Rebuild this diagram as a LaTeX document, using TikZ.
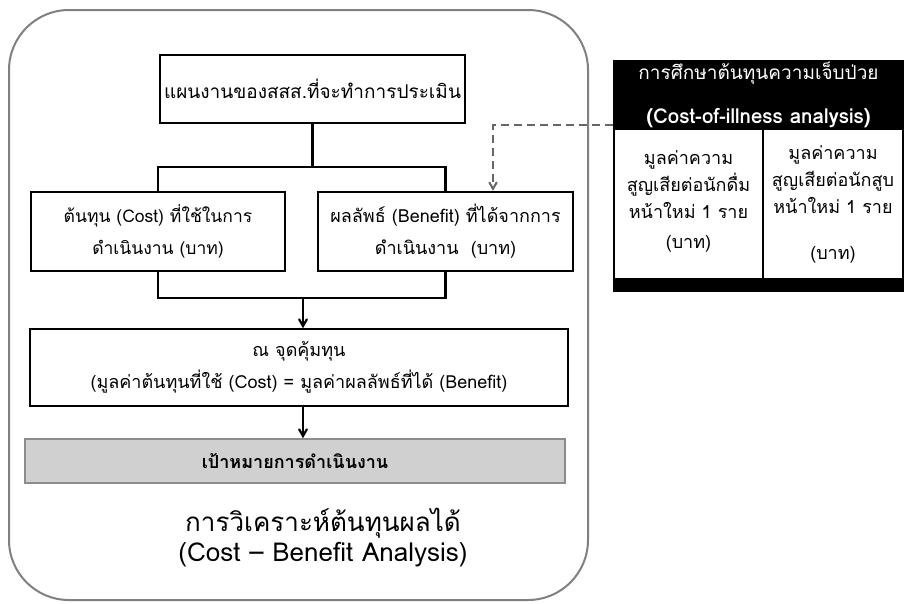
\documentclass[tikz,border=0pt]{standalone}
\usepackage{fontspec}
\setmainfont{Loma}[Script=Thai]
\usepackage{tikz}
\usetikzlibrary{positioning, arrows}
\tikzstyle{box} = [draw, rectangle, line width=2.4pt, inner sep=0pt]
\tikzstyle{link} = [line width=2.4pt]
\tikzstyle{arrow} = [line width=2.2pt,->,>=angle 60]
\tikzstyle{dashlink} = [line width=2pt, draw=black!60, dash pattern=on 8pt off 5pt,->,>=angle 60]
\definecolor{goalgray}{RGB}{208,208,208}
\definecolor{framegray}{RGB}{128,128,128}

\begin{document}
\begin{tikzpicture}[x=1pt, y=-1pt, thick, align=center, font=\fontsize{18}{32}\selectfont]
        \useasboundingbox (0,0) rectangle (904,603);

        % Outer frame
        \node[draw=framegray, line width=2pt, rounded corners=60pt, minimum width=579pt, minimum height=590pt] (cba) at (298.5,305) {};

        % Plan
        \node[box, minimum width=305pt, minimum height=68pt, font=\fontsize{19}{32}\selectfont] (plan) at (312.5,89) {แผนงานของสสส.ที่จะทำการประเมิน};

        % Cost and benefit
        \node[box, minimum width=254pt, minimum height=79pt, font=\fontsize{17.5}{32}\selectfont] (cost) at (158,231.5) {ต้นทุน (Cost) ที่ใช้ในการ\\ดำเนินงาน (บาท)};
        \node[box, minimum width=255pt, minimum height=79pt] (benefit) at (445.5,231.5) {ผลลัพธ์ (Benefit) ที่ได้จากการ\\ดำเนินงาน~~(บาท)};

        % Break-even
        \node[box, line width=1.6pt, minimum width=538pt, minimum height=77pt] (be) at (299,367.5) {ณ จุดคุ้มทุน\\(มูลค่าต้นทุนที่ใช้ (Cost) = มูลค่าผลลัพธ์ที่ได้ (Benefit)};

        % Goal
        \node[draw=black!45, line width=1.6pt, fill=goalgray, minimum width=540pt, minimum height=44pt, font=\fontsize{18}{32}\selectfont\bfseries] (goal) at (295,461) {เป้าหมายการดำเนินงาน};

        % Title
        \node[font=\fontsize{26}{30}\selectfont] (title) at (323,538) {การวิเคราะห์ต้นทุนผลได้\\(Cost – Benefit Analysis)};

        % Cost-of-illness panel
        \node[fill=black, minimum width=291pt, minimum height=232pt, inner sep=0pt] (coi) at (758.5,176) {};
        \node[text=white, font=\fontsize{19}{44}\selectfont] (coihead) at (758.5,95) {การศึกษาต้นทุนความเจ็บป่วย\\{\fontsize{20.5}{44}\selectfont\bfseries (Cost-of-illness analysis)}};
        \node[fill=white, minimum width=147pt, minimum height=148pt, inner sep=0pt, font=\fontsize{18}{27}\selectfont] (drink) at (688.5,204) {มูลค่าความ\\สูญเสียต่อนักดื่ม\\หน้าใหม่ 1 ราย\\[3pt](บาท)\\[-19pt]};
        \node[fill=white, minimum width=138pt, minimum height=148pt, inner sep=0pt, font=\fontsize{18}{27}\selectfont] (smoke) at (833,204) {มูลค่าความ\\สูญเสียต่อนักสูบ\\หน้าใหม่ 1 ราย\\[19pt](บาท)};

        % Connectors
        \draw[link] (plan.south) -- ++(0,43) coordinate (fork);
        \draw[link] (cost.north) |- (fork) -| (benefit.north);
        \draw[link] (cost.south) -- ++(0,26) -| (benefit.south);
        \draw[arrow] ([xshift=4pt]be.north |- 0,297) -- ([xshift=4pt]be.north);
        \draw[arrow] ([xshift=4pt]be.south) -- ([xshift=4pt]be.south |- goal.north);
        \draw[dashlink] (coi.west |- 0,125) -| ([xshift=47.5pt]benefit.north);

\end{tikzpicture}
\end{document}
